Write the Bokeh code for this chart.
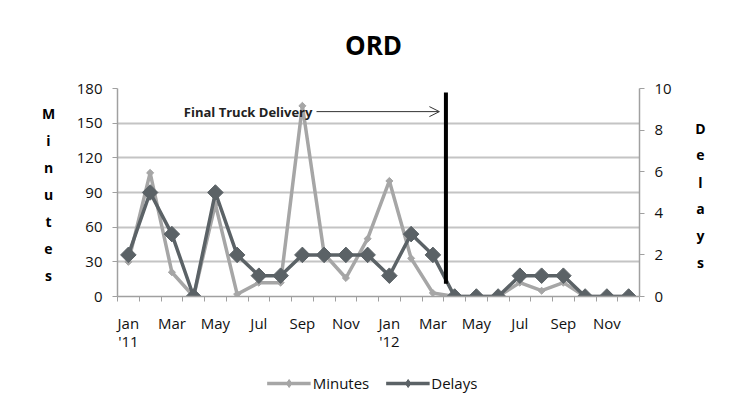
from bokeh.plotting import figure
from bokeh.layouts import row, column
from bokeh.models import (Range1d, LinearAxis, FixedTicker, Label, Legend, LegendItem,
                          Arrow, OpenHead, ColumnDataSource)
from bokeh.embed import file_html
from bokeh.resources import INLINE

months = ["Jan", "Feb", "Mar", "Apr", "May", "Jun", "Jul", "Aug", "Sep", "Oct", "Nov", "Dec",
          "Jan", "Feb", "Mar", "Apr", "May", "Jun", "Jul", "Aug", "Sep", "Oct", "Nov", "Dec"]
tick_labels = ["Jan\n'11", "Mar", "May", "Jul", "Sep", "Nov",
               "Jan\n'12", "Mar", "May", "Jul", "Sep", "Nov"]
minutes = [30, 107, 21, 0, 80, 2, 12, 12, 165, 37, 16, 50,
           100, 33, 3, 0, 0, 0, 12, 5, 12, 0, 0, 0]
delays = [2, 5, 3, 0, 5, 2, 1, 1, 2, 2, 2, 2,
          1, 3, 2, 0, 0, 0, 1, 1, 1, 0, 0, 0]
event_index = 15.1          # between Mar '12 and Apr '12
event_text = "Final Truck Delivery"
chart_title = "ORD"
left_title = "Minutes"
right_title = "Delays"

MIN_MAX = 180
DEL_MAX = 10

xs = [i + 0.5 for i in range(len(months))]
src = ColumnDataSource(dict(x=xs, minutes=minutes, delays=delays))

FONT = "Open Sans"
LIGHT = "#A6A6A6"
DARK = "#5B6266"
TXT = "#111111"
TOP_H, MID_H, BOT_H = 66, 292, 50
MB_TOP, MB_BOT = 22, 62
LW, MW, RW = 70, 619, 55
TOTAL_W = LW + MW + RW
FRAME_TOP = TOP_H + MB_TOP              # page y of the plot frame top
FRAME_BOT = TOP_H + MID_H - MB_BOT      # page y of the plot frame bottom


def blank(width, height, xr, yr):
    f = figure(width=width, height=height, output_backend="svg", toolbar_location=None,
               title=None, x_range=xr, y_range=yr,
               x_axis_location=None, y_axis_location=None, min_border=0)
    f.outline_line_color = None
    f.xgrid.visible = False
    f.ygrid.visible = False
    f.background_fill_color = "white"
    f.border_fill_color = "white"
    return f


def side_panel(width, letters, cx, top, step):
    # frames in a row are aligned with the main frame, so map page y directly
    f = blank(width, MID_H, Range1d(0, width), Range1d(FRAME_BOT, FRAME_TOP))
    for k, ch in enumerate(letters):
        f.add_layout(Label(x=cx, y=top + step * k, text=ch, text_font=FONT,
                           text_font_style="bold", text_font_size="14px", text_color="black",
                           text_align="center", text_baseline="middle"))
    return f


# ---- title strip
top = blank(TOTAL_W, TOP_H, Range1d(0, TOTAL_W), Range1d(TOP_H, 0))
top.add_layout(Label(x=373, y=44, text=chart_title, text_font=FONT, text_font_style="bold",
                     text_font_size="26px", text_color="black",
                     text_align="center", text_baseline="middle"))

# ---- main chart
p = figure(width=MW, height=MID_H, output_backend="svg", toolbar_location=None, title=None,
           x_range=Range1d(0, len(months)), y_range=Range1d(0, MIN_MAX),
           min_border_left=47, min_border_right=50, min_border_top=MB_TOP,
           min_border_bottom=MB_BOT)
p.extra_y_ranges = {"delays": Range1d(0, DEL_MAX)}
p.outline_line_color = None
p.background_fill_color = "white"
p.border_fill_color = "white"

p.xgrid.grid_line_color = None
p.ygrid.grid_line_color = "#C4C4C4"
p.ygrid.grid_line_width = 2

xa = p.xaxis[0]
label_pos = [xs[i] for i in range(0, len(months), 2)]
xa.ticker = FixedTicker(ticks=label_pos, minor_ticks=list(range(0, len(months) + 1)))
xa.major_label_overrides = {pos: lab for pos, lab in zip(label_pos, tick_labels)}
xa.major_tick_line_color = None
xa.minor_tick_line_color = "#A0A0A0"
xa.minor_tick_out = 5
xa.minor_tick_in = 0
xa.axis_line_color = "#A0A0A0"
xa.axis_line_width = 1.5
xa.major_label_text_font = FONT
xa.major_label_text_font_size = "15px"
xa.major_label_text_color = TXT
xa.major_label_text_line_height = 0.93
xa.major_label_standoff = 10

ya = p.yaxis[0]
ya.ticker = FixedTicker(ticks=list(range(0, MIN_MAX + 1, 30)))
ya.axis_line_color = "#A0A0A0"
ya.axis_line_width = 1.5
ya.major_tick_line_color = "#A0A0A0"
ya.major_tick_out = 5
ya.major_tick_in = 0
ya.minor_tick_line_color = None
ya.major_label_text_font = FONT
ya.major_label_text_font_size = "15px"
ya.major_label_text_color = TXT
ya.major_label_standoff = 10

ra = LinearAxis(y_range_name="delays", ticker=FixedTicker(ticks=list(range(0, DEL_MAX + 1, 2))))
ra.axis_line_color = "#A0A0A0"
ra.axis_line_width = 1.5
ra.major_tick_line_color = "#A0A0A0"
ra.major_tick_out = 5
ra.major_tick_in = 0
ra.minor_tick_line_color = None
ra.major_label_text_font = FONT
ra.major_label_text_font_size = "15px"
ra.major_label_text_color = TXT
ra.major_label_standoff = 10
p.add_layout(ra, "right")

min_style = dict(line_color=LIGHT, line_width=3.5)
min_mark = dict(marker="square", angle=0.785398, size=5, fill_color=LIGHT, line_color=LIGHT)
del_style = dict(line_color=DARK, line_width=3.5)
del_mark = dict(marker="square", angle=0.785398, size=11, fill_color=DARK, line_color=DARK)

p.line("x", "minutes", source=src, **min_style)
p.scatter("x", "minutes", source=src, **min_mark)
p.line("x", "delays", source=src, y_range_name="delays", **del_style)
p.scatter("x", "delays", source=src, y_range_name="delays", **del_mark)

p.segment(x0=[event_index], y0=[11], x1=[event_index], y1=[176.5],
          line_color="black", line_width=4)

p.add_layout(Label(x=3.05, y=160, text=event_text, text_font=FONT,
                   text_font_style="bold", text_font_size="13px", text_color="#222222",
                   text_baseline="middle", text_align="left"))
p.add_layout(Arrow(end=OpenHead(size=10, line_width=1, line_color="#333333"),
                   x_start=9.15, y_start=160, x_end=14.8, y_end=160,
                   line_color="#333333", line_width=1))

left = side_panel(LW, left_title, 48, 113, 27)
right = side_panel(RW, right_title, 700 - LW - MW, 128, 26.8)

# ---- legend strip (series drawn out of view; only the legend shows)
bot = blank(TOTAL_W, BOT_H, Range1d(1000, 1001), Range1d(1000, 1001))
lm = bot.line("x", "minutes", source=src, **min_style)
sm = bot.scatter("x", "minutes", source=src, marker="diamond", size=8,
                 fill_color=LIGHT, line_color=LIGHT)
ld = bot.line("x", "delays", source=src, **del_style)
sd = bot.scatter("x", "delays", source=src, marker="diamond", size=15,
                 fill_color=DARK, line_color=DARK)
legend = Legend(items=[LegendItem(label="Minutes", renderers=[lm, sm]),
                       LegendItem(label="Delays", renderers=[ld, sd])],
                orientation="horizontal", location="center",
                label_text_font=FONT, label_text_font_size="15px", label_text_color=TXT,
                glyph_width=44, spacing=16, border_line_color=None,
                background_fill_alpha=0, label_standoff=2, margin=0, padding=4)
bot.add_layout(legend, "center")

layout = column(top, row(left, p, right, spacing=0), bot, spacing=0)
open("out.html", "w").write(file_html(layout, INLINE))
